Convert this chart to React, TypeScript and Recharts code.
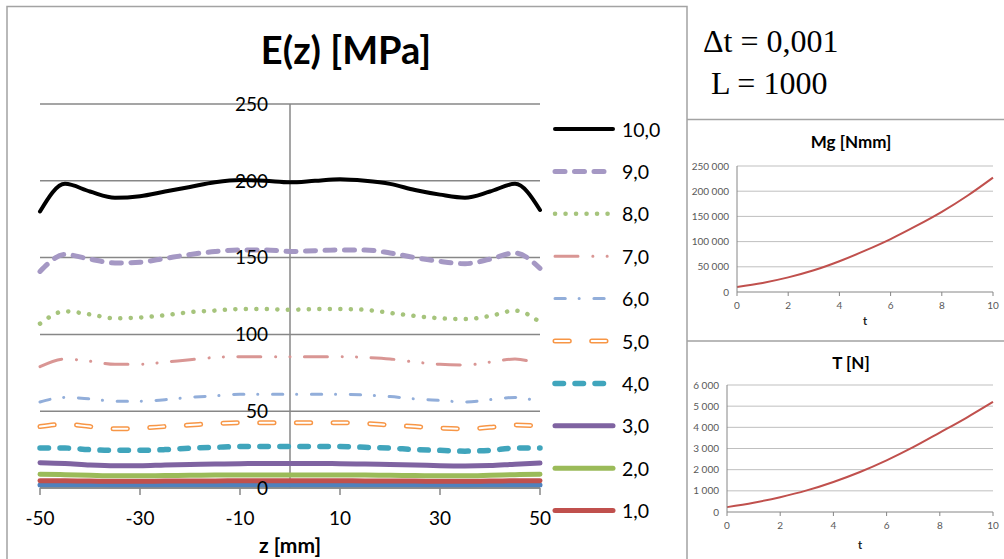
import React from 'react';
import {
  LineChart,
  Line,
  XAxis,
  YAxis,
  ReferenceLine,
  ReferenceDot,
  Label,
} from 'recharts';

// E(z) profiles, one array per time step (MPa), read at z = -50..50 step 5
const zPoints = [-50, -45, -40, -35, -30, -25, -20, -15, -10, -5, 0, 5, 10, 15, 20, 25, 30, 35, 40, 45, 50];

const e00 = [2, 2, 2, 1.8, 1.8, 1.9, 2, 2, 2, 2, 2, 2, 2, 2, 2, 1.9, 1.8, 1.8, 2, 2, 2];
const e01 = [4.8, 4.7, 4.5, 4.4, 4.4, 4.5, 4.6, 4.6, 4.7, 4.7, 4.7, 4.7, 4.7, 4.6, 4.6, 4.5, 4.4, 4.4, 4.5, 4.7, 4.8];
const e02 = [9, 8.7, 8.3, 8, 8, 8.1, 8.3, 8.4, 8.5, 8.5, 8.5, 8.5, 8.5, 8.4, 8.3, 8.1, 8, 8, 8.3, 8.7, 9];
const e03 = [16.5, 16, 15, 14.5, 14.5, 15, 15.3, 15.6, 15.8, 16, 16, 16, 15.8, 15.6, 15.3, 15, 14.5, 14.3, 14.6, 15.5, 16.2];
const e04 = [26, 26, 25, 24.5, 24.5, 25, 26, 26.5, 27, 27, 27, 27, 27, 26.5, 26, 25, 24.5, 24, 24.5, 26, 26];
const e05 = [40, 41.5, 40, 38.5, 39, 40, 41, 42, 42.5, 42.5, 42.5, 42.5, 42.5, 42, 41, 40, 39, 38.5, 39.5, 41, 40.5];
const e06 = [56, 59, 58, 56.5, 56.5, 57.5, 59, 60, 61, 61, 61, 61, 61, 60.5, 59.5, 58, 57, 56, 57.5, 59, 56];
const e07 = [79, 84, 82.5, 80.5, 80.5, 82, 83.5, 85, 85.5, 85.5, 85.5, 85.5, 85.5, 85, 84, 82, 80.5, 80, 82, 84, 80];
const e08 = [107, 115, 113, 110.5, 111, 112.5, 114.5, 115.5, 116.5, 116.5, 116, 116.5, 116.5, 116, 114, 112, 110.5, 110, 112, 115.5, 108];
const e09 = [141, 152, 149, 146.5, 147, 149.5, 152, 154, 155, 155, 154, 154.5, 155, 155, 153, 150, 147.5, 146, 149, 153, 143];
const e10 = [180, 198, 193, 189, 190, 193, 196, 199, 200.5, 200, 199, 200, 201, 200, 198, 194, 191, 189, 193, 198, 181];

const eNames = ['0,0', '1,0', '2,0', '3,0', '4,0', '5,0', '6,0', '7,0', '8,0', '9,0', '10,0'];
const zTicks = [-50, -30, -10, 10, 30, 50];
const eTicks = [0, 50, 100, 150, 200, 250];

// small charts
const tPoints = [0, 1, 2, 3, 4, 5, 6, 7, 8, 9, 10];
const mgValues = [10000, 18000, 29000, 43000, 61000, 82000, 105000, 131000, 159000, 191000, 227000];
const tValues = [230, 440, 700, 1020, 1420, 1890, 2440, 3060, 3750, 4450, 5200];
const timeTicks = [0, 2, 4, 6, 8, 10];
const mgTicks = [0, 50000, 100000, 150000, 200000, 250000];
const tTicks = [0, 1000, 2000, 3000, 4000, 5000, 6000];

const eSeries = [e00, e01, e02, e03, e04, e05, e06, e07, e08, e09, e10];

type LineStyle = { color: string; width: number; dash?: string; hollow?: boolean };

const lineStyles: LineStyle[] = [
  { color: '#4F81BD', width: 5 },
  { color: '#C0504D', width: 5 },
  { color: '#9BBB59', width: 5 },
  { color: '#7F63A1', width: 5 },
  { color: '#40A5BC', width: 5.5, dash: '8.5 11.5' },
  { color: '#F79646', width: 5, dash: '14.3 22.4', hollow: true },
  { color: '#92AEDA', width: 3, dash: '10.3 13.8 0.1 14.7' },
  { color: '#D99694', width: 3, dash: '23 14.8 0.1 14.2 0.1 14.4' },
  { color: '#A6C47C', width: 4.5, dash: '0.1 10.4' },
  { color: '#A598C4', width: 5, dash: '10 9.5' },
  { color: '#000000', width: 4 },
];

const mainData = zPoints.map((z, i) => {
  const row: Record<string, number> = { z };
  eSeries.forEach((s, k) => {
    row['e' + k] = s[i];
  });
  return row;
});

const mgData = tPoints.map((t, i) => ({ t, v: mgValues[i] }));
const tData = tPoints.map((t, i) => ({ t, v: tValues[i] }));

const FONT = 'Lato, "Open Sans", sans-serif';
const SERIF = '"Liberation Serif", "Times New Roman", serif';
const GRID = '#878787';

// thousands separated by a no-break space so tick labels stay on one line
const thousands = (v: number) => String(v).replace(/\B(?=(\d{3})+(?!\d))/g, '\u00A0');

function MainChart() {
  return (
    <div style={{ position: 'absolute', left: 0, top: 0, fontFamily: FONT }}>
      <LineChart width={686} height={559} data={mainData} margin={{ top: 104, right: 146, bottom: 31, left: 40 }}>
        <XAxis
          dataKey="z"
          type="number"
          domain={[-50, 50]}
          ticks={zTicks}
          height={40}
          stroke={GRID}
          strokeWidth={1.5}
          tickSize={7}
          tickMargin={17}
          tick={{ fill: '#000', fontSize: 19, fontFamily: FONT }}
        />
        <YAxis type="number" domain={[0, 250]} ticks={eTicks} width={0} tick={false} axisLine={false} tickLine={false} />
        {eTicks.map((v) => (
          <ReferenceLine key={'g' + v} y={v} stroke={GRID} strokeWidth={1.5} />
        ))}
        <ReferenceLine x={0} stroke={GRID} strokeWidth={1.5} />
        {eTicks.map((v) => (
          <ReferenceDot
            key={'yl' + v}
            x={0}
            y={v}
            r={0}
            fill="none"
            stroke="none"
            label={{ value: v, position: 'left', offset: 22, fontSize: 19, fill: '#000', fontFamily: FONT }}
          />
        ))}
        {lineStyles.map((st, k) => {
          const base = (
            <Line
              key={'l' + k}
              dataKey={'e' + k}
              type="monotone"
              stroke={st.color}
              strokeWidth={st.width}
              strokeDasharray={st.dash}
              strokeLinecap="round"
              strokeLinejoin="round"
              dot={false}
              activeDot={false}
              isAnimationActive={false}
            />
          );
          if (!st.hollow) return base;
          return [
            base,
            <Line
              key={'h' + k}
              dataKey={'e' + k}
              type="monotone"
              stroke="#ffffff"
              strokeWidth={2}
              strokeDasharray={st.dash}
              strokeLinecap="round"
              dot={false}
              activeDot={false}
              isAnimationActive={false}
            />,
          ];
        })}
      </LineChart>
    </div>
  );
}

function SmallChart(props: {
  data: { t: number; v: number }[];
  ticks: number[];
  left: number;
  top: number;
  height: number;
  marginTop: number;
  marginBottom: number;
  yWidth: number;
  labelOffset: number;
}) {
  const { data, ticks, left, top, height, marginTop, marginBottom, yWidth, labelOffset } = props;
  return (
    <div style={{ position: 'absolute', left, top, fontFamily: FONT }}>
      <LineChart width={318} height={height} data={data} margin={{ top: marginTop, right: 11, bottom: marginBottom, left: 6 }}>
        <XAxis
          dataKey="t"
          type="number"
          domain={[0, 10]}
          ticks={timeTicks}
          height={40}
          stroke="#868686"
          tickSize={4}
          tickMargin={6}
          tick={{ fill: '#595959', fontSize: 10, fontFamily: FONT }}
        >
          <Label value="t" position="insideBottom" offset={labelOffset} fontSize={11} fontWeight="bold" fill="#222" />
        </XAxis>
        <YAxis
          type="number"
          domain={[ticks[0], ticks[ticks.length - 1]]}
          ticks={ticks}
          width={yWidth}
          stroke="#868686"
          tickSize={0}
          tickMargin={8}
          tickFormatter={thousands}
          tick={{ fill: '#595959', fontSize: 10, fontFamily: FONT }}
        />
        {ticks
          .filter((v) => v > 0)
          .map((v) => (
            <ReferenceLine key={'g' + v} y={v} stroke="#BFBFBF" />
          ))}
        <Line dataKey="v" type="monotone" stroke="#C0504D" strokeWidth={2} dot={false} activeDot={false} isAnimationActive={false} />
      </LineChart>
    </div>
  );
}

function Overlay() {
  const legendItems = lineStyles
    .map((st, k) => ({ st, name: eNames[k], k }))
    .filter((it) => it.k > 0)
    .reverse();
  return (
    <svg width={1004} height={559} style={{ position: 'absolute', left: 0, top: 0, pointerEvents: 'none', fontFamily: FONT }}>
      <path d="M7 559 V6.5 H687 V559" fill="none" stroke="#A3A3A3" strokeWidth={1.5} />
      <path d="M1004 119.5 H687 M1004 341 H687" fill="none" stroke="#A3A3A3" strokeWidth={1.5} />
      <text x={346} y={64} textAnchor="middle" fontSize={38} fontWeight="bold" fill="#000">
        E(z) [MPa]
      </text>
      <text x={290} y={553} textAnchor="middle" fontSize={21} fontWeight="bold" fill="#000">
        z [mm]
      </text>
      {legendItems.map((it, i) => {
        const y = 129 + i * 42.4;
        return (
          <g key={it.name}>
            <line x1={555} x2={613} y1={y} y2={y} stroke={it.st.color} strokeWidth={it.st.width} strokeDasharray={it.st.dash} strokeLinecap="round" />
            {it.st.hollow && (
              <line x1={555} x2={613} y1={y} y2={y} stroke="#fff" strokeWidth={2} strokeDasharray={it.st.dash} strokeLinecap="round" />
            )}
            <text x={622} y={y} dominantBaseline="central" fontSize={19.5} fill="#000">
              {it.name}
            </text>
          </g>
        );
      })}
      <text x={703} y={52} fontSize={32} fontFamily={SERIF} fill="#000">
        Δt = 0,001
      </text>
      <text x={711} y={94} fontSize={32} fontFamily={SERIF} fill="#000">
        L = 1000
      </text>
      <text x={851} y={148} textAnchor="middle" fontSize={17} fontWeight="bold" fill="#000">
        Mg [Nmm]
      </text>
      <text x={851} y={369} textAnchor="middle" fontSize={17} fontWeight="bold" fill="#000">
        T [N]
      </text>
    </svg>
  );
}

export default function App() {
  return (
    <div style={{ position: 'absolute', left: 0, top: 0, width: 1004, height: 559, background: '#fff', overflow: 'hidden' }}>
      <MainChart />
      <SmallChart data={mgData} ticks={mgTicks} left={686} top={119} height={221} marginTop={47} marginBottom={8} yWidth={45} labelOffset={7} />
      <SmallChart data={tData} ticks={tTicks} left={686} top={340} height={219} marginTop={45} marginBottom={7} yWidth={35} labelOffset={3} />
      <Overlay />
    </div>
  );
}
